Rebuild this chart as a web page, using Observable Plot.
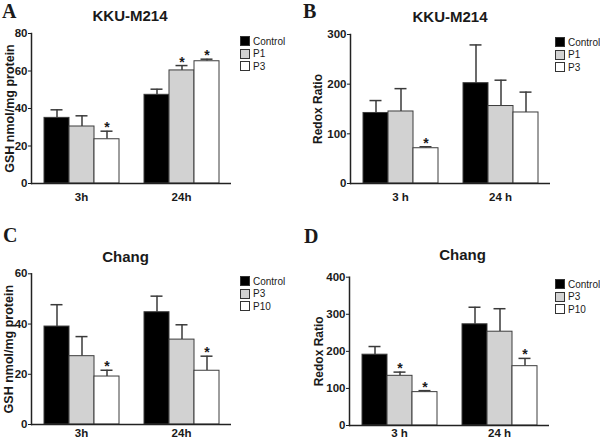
<!DOCTYPE html>
<html>
<head>
<meta charset="utf-8">
<script src="https://cdn.jsdelivr.net/npm/d3@7"></script>
<script src="https://cdn.jsdelivr.net/npm/@observablehq/plot@0.6"></script>
<style>
  body { margin: 0; background: #fff; }
  #root { position: relative; width: 600px; height: 443px; overflow: hidden; font-family: "Liberation Sans", Arial, Helvetica, sans-serif; color: #1a1a1a; }
  .panel { position: absolute; }
  .letter { position: absolute; font-family: "Liberation Serif", "Times New Roman", serif; font-weight: bold; font-size: 20px; line-height: 1; }
  .title { position: absolute; font-weight: bold; font-size: 15px; line-height: 1; white-space: nowrap; transform: translateX(-50%); }
  .legend { position: absolute; font-size: 10px; white-space: nowrap; }
  .legend .row { display: flex; align-items: center; height: 12.5px; }
  .legend .sw { width: 10px; height: 10px; border: 1px solid #333; box-sizing: border-box; margin-right: 3px; }
</style>
</head>
<body>
<div id="root"></div>
<script>
// ---------- data ----------
const timesGSH = ["3h", "24h"];
const timesRedox = ["3 h", "24 h"];
const seriesKKU = ["Control", "P1", "P3"];
const seriesChang = ["Control", "P3", "P10"];
const seriesFills = ["#000000", "#d2d2d2", "#ffffff"];

// A: KKU-M214 GSH (rows = time, cols = series)
const gshKKUMean = [[35.0, 30.4, 23.6], [47.3, 60.3, 65.2]];
const gshKKUErr  = [[4.3, 5.7, 4.3], [3.0, 2.6, 1.1]];
const gshKKUSig  = [[0, 0, 1], [0, 1, 1]];
const gshKKUTicks = [0, 20, 40, 60, 80];

// B: KKU-M214 redox ratio
const redoxKKUMean = [[142, 145, 71], [202, 156, 143]];
const redoxKKUErr  = [[25, 46, 3], [77, 52, 41]];
const redoxKKUSig  = [[0, 0, 1], [0, 0, 0]];
const redoxKKUTicks = [0, 100, 200, 300];

// C: Chang GSH
const gshChangMean = [[39.0, 27.2, 19.1], [44.7, 33.8, 21.4]];
const gshChangErr  = [[8.7, 7.8, 2.5], [6.4, 5.9, 5.8]];
const gshChangSig  = [[0, 0, 1], [0, 0, 1]];
const gshChangTicks = [0, 20, 40, 60];

// D: Chang redox ratio
const redoxChangMean = [[191, 134, 90], [273, 253, 160]];
const redoxChangErr  = [[22, 10, 4], [46, 62, 21]];
const redoxChangSig  = [[0, 1, 1], [0, 0, 1]];
const redoxChangTicks = [0, 100, 200, 300, 400];

const FONT = '"Liberation Sans", Arial, Helvetica, sans-serif';

// ---------- layout ----------
const panels = [
  {letter: "A", title: "KKU-M214", yLabel: "GSH nmol/mg protein", times: timesGSH, series: seriesKKU,
   mean: gshKKUMean, err: gshKKUErr, sig: gshKKUSig, ticks: gshKKUTicks,
   left: 0, top: 0, width: 300, height: 215, ml: 31, mr: 69, mt: 33, mb: 32, labelOffset: 26, labelSize: 12.5, fxPad: 9,
   letterPos: [2, 0.5], titlePos: [130, 8.3], legendPos: [240, 34.75]},
  {letter: "B", title: "KKU-M214", yLabel: "Redox Ratio", times: timesRedox, series: seriesKKU,
   mean: redoxKKUMean, err: redoxKKUErr, sig: redoxKKUSig, ticks: redoxKKUTicks,
   left: 300, top: 0, width: 300, height: 215, ml: 50, mr: 50, mt: 34, mb: 32, labelOffset: 37, labelSize: 12, fxPad: 9,
   letterPos: [303, 0.5], titlePos: [450, 9], legendPos: [555, 35.75]},
  {letter: "C", title: "Chang", yLabel: "GSH nmol/mg protein", times: timesGSH, series: seriesChang,
   mean: gshChangMean, err: gshChangErr, sig: gshChangSig, ticks: gshChangTicks,
   left: 0, top: 220, width: 300, height: 223, ml: 31, mr: 69, mt: 53.3, mb: 19, labelOffset: 27, labelSize: 12.5, fxPad: 4,
   letterPos: [3, 225], titlePos: [125.5, 248.6], legendPos: [240, 274.75]},
  {letter: "D", title: "Chang", yLabel: "Redox Ratio", times: timesRedox, series: seriesChang,
   mean: redoxChangMean, err: redoxChangErr, sig: redoxChangSig, ticks: redoxChangTicks,
   left: 300, top: 220, width: 300, height: 223, ml: 49, mr: 51, mt: 56.7, mb: 18, labelOffset: 35, labelSize: 12, fxPad: 3,
   letterPos: [304, 226], titlePos: [462.5, 247.3], legendPos: [555, 277.75]}
];

const root = document.getElementById("root");

function addDiv(cls, x, y, text) {
  const d = document.createElement("div");
  d.className = cls;
  d.style.left = x + "px";
  d.style.top = y + "px";
  if (text != null) d.textContent = text;
  root.appendChild(d);
  return d;
}

for (const p of panels) {
  const rows = [];
  p.times.forEach((t, i) => p.series.forEach((s, j) => rows.push({
    time: t, series: s, mean: p.mean[i][j], top: p.mean[i][j] + p.err[i][j], sig: p.sig[i][j]
  })));
  const yMax = p.ticks[p.ticks.length - 1];

  const chart = Plot.plot({
    width: p.width, height: p.height,
    marginLeft: p.ml, marginRight: p.mr, marginTop: p.mt, marginBottom: p.mb,
    style: {fontFamily: FONT, fontSize: "11.5px", fontWeight: "bold", color: "#1a1a1a", background: "transparent", overflow: "visible"},
    fx: {domain: p.times, paddingInner: 0, paddingOuter: 0},
    x: {domain: p.series, paddingInner: 0, paddingOuter: 0.474, axis: null},
    y: {domain: [0, yMax]},
    color: {domain: p.series, range: seriesFills},
    marks: [
      Plot.ruleX(rows, {fx: "time", x: "series", y1: "mean", y2: "top", stroke: "#3a3a3a", strokeWidth: 1.5}),
      Plot.tickY(rows, {fx: "time", x: "series", y: "top", stroke: "#3a3a3a", strokeWidth: 1.5, insetLeft: 6.5, insetRight: 6.5}),
      Plot.barY(rows, {fx: "time", x: "series", y: "mean", fill: "series", stroke: "#3c3c3c", strokeWidth: 1}),
      Plot.text(rows.filter(d => d.sig), {fx: "time", x: "series", y: "top", text: () => "*", fontSize: 14, fontWeight: "bold", lineAnchor: "bottom", dy: 1}),
      Plot.ruleY([0], {stroke: "#222", strokeWidth: 1.5}),
      Plot.frame({anchor: "left", facetAnchor: "left", stroke: "#222", strokeWidth: 1.5}),
      Plot.axisY({ticks: p.ticks, tickSize: 3, tickPadding: 1, tickFormat: d => String(d), label: null, fontSize: 11.5}),
      Plot.axisY({ticks: p.ticks, tickSize: 0, tickFormat: () => "", label: p.yLabel, labelAnchor: "center",
        labelOffset: p.labelOffset, labelArrow: "none", fontSize: p.labelSize}),
      Plot.axisFx({anchor: "bottom", tickSize: 0, tickPadding: p.fxPad, label: null, fontSize: 11.5})
    ]
  });
  const holder = addDiv("panel", p.left, p.top);
  holder.appendChild(chart);

  addDiv("letter", p.letterPos[0], p.letterPos[1], p.letter);
  addDiv("title", p.titlePos[0], p.titlePos[1], p.title);
  const leg = addDiv("legend", p.legendPos[0], p.legendPos[1]);
  p.series.forEach((s, j) => {
    const row = document.createElement("div");
    row.className = "row";
    const sw = document.createElement("span");
    sw.className = "sw";
    sw.style.background = seriesFills[j];
    const tx = document.createElement("span");
    tx.textContent = s;
    row.appendChild(sw); row.appendChild(tx);
    leg.appendChild(row);
  });
}
</script>
</body>
</html>
